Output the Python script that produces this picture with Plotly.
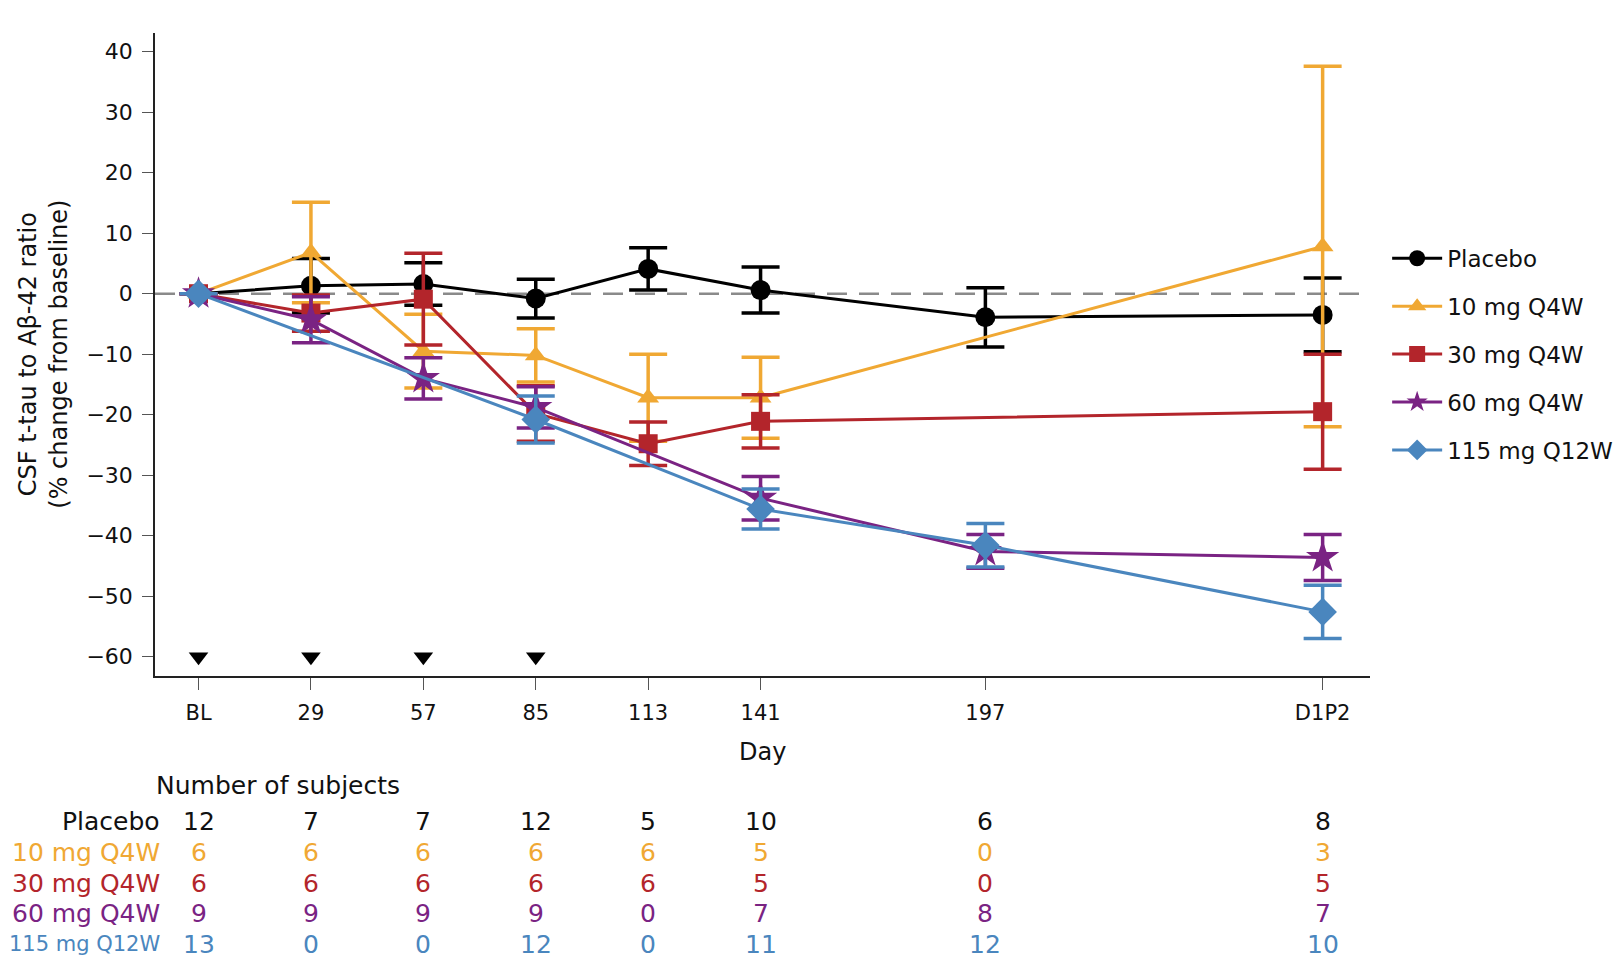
import plotly.graph_objects as go

# x positions are study days, BL = day 1, D1P2 plotted 84 days after 197
days = [1, 29, 57, 85, 113, 141, 197, 281]
day_labels = ['BL', '29', '57', '85', '113', '141', '197', 'D1P2']

groups = ['Placebo', '10 mg Q4W', '30 mg Q4W', '60 mg Q4W', '115 mg Q12W']
colors = ['#000000', '#F0A833', '#B3252B', '#7A2383', '#4A86BE']
symbols = ['circle', 'triangle-up', 'square', 'star', 'diamond']
marker_sizes = [20, 19, 19, 25, 22]

# mean % change from baseline (None = no subjects at that visit)
placebo_mean = [0, 1.3, 1.6, -0.8, 4.1, 0.6, -3.9, -3.5]
placebo_err = [0, 4.5, 3.5, 3.2, 3.5, 3.8, 4.9, 6.1]
mg10_mean = [0, 6.8, -9.5, -10.2, -17.2, -17.2, None, 7.8]
mg10_err = [0, 8.3, 6.1, 4.4, 7.2, 6.7, None, 29.8]
mg30_mean = [0, -3.2, -0.9, -19.8, -24.8, -21.1, None, -19.5]
mg30_err = [0, 3.0, 7.6, 4.6, 3.6, 4.4, None, 9.5]
mg60_mean = [0, -4.3, -14.0, -18.8, None, -33.8, -42.6, -43.6]
mg60_err = [0, 3.8, 3.4, 3.4, None, 3.6, 2.8, 3.8]
mg115_mean = [0, None, None, -20.8, None, -35.6, -41.6, -52.6]
mg115_err = [0, None, None, 3.9, None, 3.3, 3.6, 4.4]

means = [placebo_mean, mg10_mean, mg30_mean, mg60_mean, mg115_mean]
errs = [placebo_err, mg10_err, mg30_err, mg60_err, mg115_err]

# number of subjects per visit
n_placebo = [12, 7, 7, 12, 5, 10, 6, 8]
n_10mg = [6, 6, 6, 6, 6, 5, 0, 3]
n_30mg = [6, 6, 6, 6, 6, 5, 0, 5]
n_60mg = [9, 9, 9, 9, 0, 7, 8, 7]
n_115mg = [13, 0, 0, 12, 0, 11, 12, 10]
counts = [n_placebo, n_10mg, n_30mg, n_60mg, n_115mg]

# dosing days (marked with arrowheads)
dose_days = [1, 29, 57, 85]
dose_level = [-60, -60, -60, -60]

font_main = 'DejaVu Sans'
text_col = '#111111'

fig = go.Figure()

fig.add_trace(go.Scatter(
    x=dose_days, y=dose_level, mode='markers',
    marker=dict(symbol='triangle-down', size=17, color='black'),
    showlegend=False, hoverinfo='skip'
))

for g, name in enumerate(groups):
    fig.add_trace(go.Scatter(
        x=days, y=means[g],
        mode='lines+markers',
        name=name,
        legendgroup=name,
        connectgaps=True,
        line=dict(color=colors[g], width=3),
        marker=dict(symbol=symbols[g], size=marker_sizes[g], color=colors[g],
                    line=dict(width=0)),
        error_y=dict(type='data', array=errs[g], visible=True,
                     color=colors[g], thickness=3.5, width=19),
    ))

# zero reference line
fig.add_shape(type='line', xref='paper', yref='y', x0=0, x1=1, y0=0, y1=0,
              line=dict(color='#8a8a8a', width=2.6, dash='20px,12px'), layer='below')

annotations = []
# y axis title
annotations.append(dict(
    text='CSF t-tau to Aβ-42 ratio<br>(% change from baseline)',
    xref='paper', yref='paper', x=-0.092, y=0.5, textangle=-90,
    xanchor='center', yanchor='middle', showarrow=False,
    font=dict(size=24, family=font_main, color=text_col)
))
# x axis title
annotations.append(dict(
    text='Day', xref='paper', yref='paper', x=0.5, y=-0.118,
    xanchor='center', yanchor='middle', showarrow=False,
    font=dict(size=24, family=font_main, color=text_col)
))
# subjects table
annotations.append(dict(
    text='Number of subjects', xref='paper', yref='paper', x=-0.001, y=-0.170,
    xanchor='left', yanchor='middle', showarrow=False,
    font=dict(size=25, family=font_main, color=text_col)
))
row_y = [-0.227, -0.274, -0.322, -0.370, -0.417]
label_sizes = [25, 25, 25, 25, 21]
for g, name in enumerate(groups):
    col = colors[g] if g else text_col
    annotations.append(dict(
        text=name, xref='paper', yref='paper', x=0.006, y=row_y[g],
        xanchor='right', yanchor='middle', showarrow=False,
        font=dict(size=label_sizes[g], family=font_main, color=col)
    ))
    for d, n in zip(days, counts[g]):
        annotations.append(dict(
            text=str(n), xref='x', yref='paper', x=d, y=row_y[g],
            xanchor='center', yanchor='middle', showarrow=False,
            font=dict(size=25, family=font_main, color=col)
        ))

fig.update_layout(
    width=1621, height=959,
    paper_bgcolor='white', plot_bgcolor='white',
    margin=dict(l=147, r=259, t=25, b=291),
    font=dict(family=font_main, color=text_col),
    xaxis=dict(
        range=[-9.84, 292.8], tickmode='array', tickvals=days, ticktext=day_labels,
        showline=True, linecolor='#222222', linewidth=1.5, showgrid=False, zeroline=False,
        ticks='outside', ticklen=12, tickwidth=1.2, tickcolor='#555555',
        ticklabelstandoff=5,
        tickfont=dict(size=21, family=font_main, color=text_col)
    ),
    yaxis=dict(
        range=[-63.2, 43.1], tickmode='array', tickvals=list(range(-60, 41, 10)),
        showline=True, linecolor='#222222', linewidth=1.5, showgrid=False, zeroline=False,
        ticks='outside', ticklen=11, tickwidth=1.2, tickcolor='#555555',
        ticklabelstandoff=5,
        tickfont=dict(size=22, family=font_main, color=text_col)
    ),
    legend=dict(
        xref='container', x=0.8508, y=0.683, xanchor='left', yanchor='top',
        font=dict(size=23, family=font_main, color=text_col),
        tracegroupgap=15, itemwidth=50, bgcolor='rgba(0,0,0,0)'
    ),
    annotations=annotations,
    showlegend=True,
)

fig.write_html('out.html')
